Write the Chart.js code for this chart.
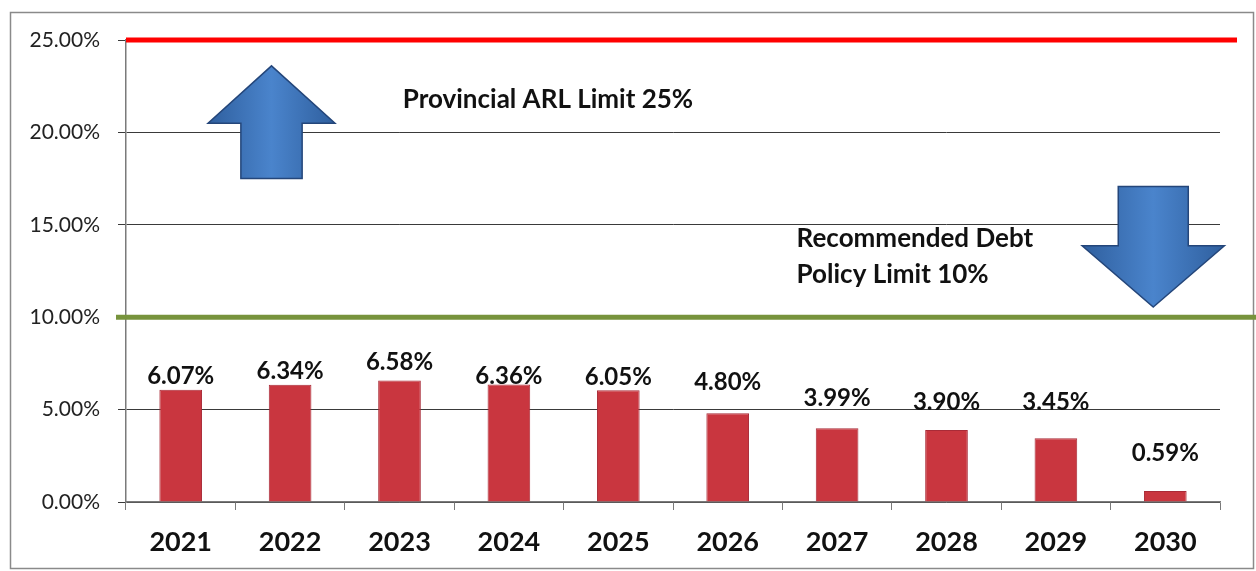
<html>
<head>
    <title>ARL Debt Ratio</title>
    <script src="https://cdn.jsdelivr.net/npm/chart.js"></script>
    <style>
        body { margin: 0; background: #fff; }
        .chartBox { width: 1256px; height: 571px; position: relative; }
    </style>
</head>
<body>
<div class="chartBox"><canvas id="arlChart"></canvas></div>

<script type="text/javascript" charset="utf-8">

    var years = ['2021', '2022', '2023', '2024', '2025', '2026', '2027', '2028', '2029', '2030'];
    var ratios = [6.07, 6.34, 6.58, 6.36, 6.05, 4.80, 3.99, 3.90, 3.45, 0.59];
    var yTicks = [0, 5, 10, 15, 20, 25];
    // pixel gap between bar top and its label, as in the picture
    var labelLift = [14, 14, 18, 8, 13, 31, 30, 28, 36, 38];
    var provincialLimit = 25;
    var policyLimit = 10;

    function drawArrow(ctx, xs, ys, cx, tipY, baseY, endY, headW, shaftW) {
        // cx in category units, y values in percent
        var x = xs.getPixelForValue(cx);
        var step = xs.getPixelForValue(1) - xs.getPixelForValue(0);
        var hw = headW * step, sw = shaftW * step;
        var tY = ys.getPixelForValue(tipY), bY = ys.getPixelForValue(baseY), eY = ys.getPixelForValue(endY);
        ctx.save();
        ctx.beginPath();
        ctx.moveTo(x, tY);
        ctx.lineTo(x + hw, bY);
        ctx.lineTo(x + sw, bY);
        ctx.lineTo(x + sw, eY);
        ctx.lineTo(x - sw, eY);
        ctx.lineTo(x - sw, bY);
        ctx.lineTo(x - hw, bY);
        ctx.closePath();
        var g = ctx.createLinearGradient(x - hw, 0, x + hw, 0);
        g.addColorStop(0, '#2f5f9e');
        g.addColorStop(0.5, '#4a84cc');
        g.addColorStop(1, '#2f5f9e');
        ctx.fillStyle = g;
        ctx.fill();
        ctx.strokeStyle = '#24467a';
        ctx.lineWidth = 1.5;
        ctx.stroke();
        ctx.restore();
    }

    var overlay = {
        id: 'overlay',
        beforeDraw: function (chart) {
            var ctx = chart.ctx;
            ctx.save();
            ctx.fillStyle = '#fff';
            ctx.fillRect(0, 0, chart.width, chart.height);
            ctx.strokeStyle = '#8a8a8a';
            ctx.lineWidth = 1.5;
            ctx.strokeRect(10.5, 12.5, 1243, 556);
            ctx.restore();
        },
        afterDatasetsDraw: function (chart) {
            var ctx = chart.ctx;
            var xs = chart.scales.x, ys = chart.scales.y;
            var area = chart.chartArea;

            // limit lines
            ctx.save();
            ctx.lineWidth = 5;
            ctx.strokeStyle = '#ff0000';
            ctx.beginPath();
            ctx.moveTo(area.left, ys.getPixelForValue(provincialLimit));
            ctx.lineTo(area.right + 17, ys.getPixelForValue(provincialLimit));
            ctx.stroke();
            ctx.strokeStyle = '#77933c';
            ctx.beginPath();
            ctx.moveTo(area.left - 10, ys.getPixelForValue(policyLimit));
            ctx.lineTo(chart.width, ys.getPixelForValue(policyLimit));
            ctx.stroke();
            ctx.restore();

            // value labels
            var meta = chart.getDatasetMeta(0);
            ctx.save();
            ctx.font = 'bold 24px Lato';
            ctx.fillStyle = '#111';
            ctx.textAlign = 'center';
            ctx.textBaseline = 'middle';
            meta.data.forEach(function (bar, i) {
                ctx.fillText(ratios[i].toFixed(2) + '%', bar.x, bar.y - labelLift[i]);
            });

            // annotations
            ctx.textAlign = 'left';
            ctx.font = 'bold 26px Lato';
            ctx.fillText('Provincial ARL Limit 25%', xs.getPixelForValue(2.03), ys.getPixelForValue(21.8));
            ctx.fillText('Recommended Debt', xs.getPixelForValue(5.63), ys.getPixelForValue(14.25));
            ctx.fillText('Policy Limit 10%', xs.getPixelForValue(5.63), ys.getPixelForValue(12.3));
            ctx.restore();

            drawArrow(ctx, xs, ys, 0.83, 23.6, 20.5, 17.5, 0.58, 0.28);
            drawArrow(ctx, xs, ys, 8.89, 10.55, 13.86, 17.07, 0.65, 0.32);
        }
    };

    function loadPage() {
        var el = document.getElementById('arlChart');
        new Chart(el, {
            type: 'bar',
            data: {
                labels: years,
                datasets: [{
                    data: ratios,
                    backgroundColor: '#c9363f',
                    borderColor: '#a92b37',
                    borderWidth: 1,
                    barPercentage: 0.39,
                    categoryPercentage: 1
                }]
            },
            options: {
                responsive: true,
                maintainAspectRatio: false,
                animation: false,
                layout: { padding: { top: 40, right: 36, left: 0, bottom: 0 } },
                plugins: { legend: { display: false }, tooltip: { enabled: false } },
                scales: {
                    y: {
                        min: 0,
                        max: 25,
                        afterBuildTicks: function (s) { s.ticks = yTicks.map(function (v) { return { value: v }; }); },
                        afterFit: function (s) { s.width = 126; },
                        ticks: {
                            color: '#222',
                            font: { family: 'Lato', size: 21 },
                            padding: 18,
                            callback: function (v) { return v.toFixed(2) + '%'; }
                        },
                        grid: { color: '#3a3a3a', lineWidth: 1, tickLength: 8 },
                        border: { display: true, color: '#7a7a7a', width: 1.5 }
                    },
                    x: {
                        afterFit: function (s) { s.height = 69; },
                        ticks: {
                            color: '#111',
                            font: { family: 'Lato', size: 27, weight: 'bold' },
                            padding: 16
                        },
                        grid: { drawOnChartArea: false, drawTicks: true, tickLength: 8, color: '#7a7a7a', offset: true },
                        border: { display: true, color: '#7a7a7a', width: 1.5 }
                    }
                }
            },
            plugins: [overlay]
        });
    }

    loadPage();
</script>
</body>
</html>
